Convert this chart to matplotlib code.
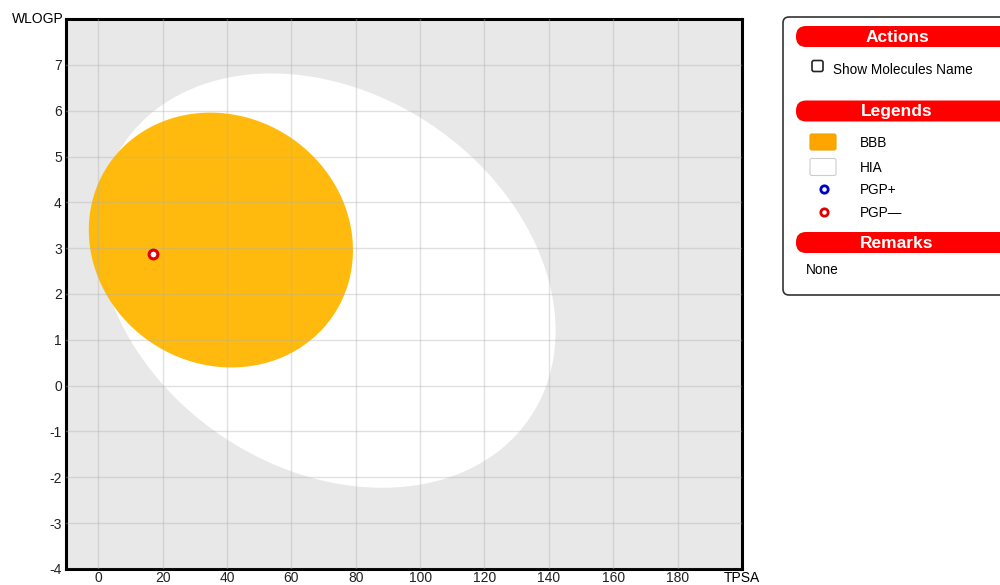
import numpy as np
import matplotlib.pyplot as plt
from matplotlib.patches import FancyBboxPatch, Polygon

plt.rcParams["font.family"] = ["Liberation Sans", "DejaVu Sans"]

# ── Data ─────────────────────────────────────────────────────────────────────
# Molecule position (TPSA, WLOGP)
mol_tpsa = [17.1]
mol_wlogp = [2.88]

# Egg regions: centre, half-width in TPSA, half-height in WLOGP, tilt phase
hia_center = (71.051, 2.292)
hia_half = (71.04, 4.52)
hia_phase = -0.245

bbb_center = (38.117, 3.177)
bbb_half = (41.03, 2.78)
bbb_phase = -0.08

x_ticks = list(range(0, 181, 20))
y_ticks = list(range(-4, 8))

panel_headers = ["Actions", "Legends", "Remarks"]
legend_labels = ["BBB", "HIA", "PGP+", "PGP\u2014"]
remarks_text = "None"


def egg_outline(center, half, phase, n=400):
    t = np.linspace(0, 2 * np.pi, n)
    xs = center[0] + half[0] * np.cos(t)
    ys = center[1] + half[1] * np.sin(t + phase)
    return np.column_stack([xs, ys])


fig = plt.figure(figsize=(10, 5.85), dpi=100)

# ── Main plot ────────────────────────────────────────────────────────────────
ax = fig.add_axes([0.066, 0.0274, 0.676, 0.9401])
ax.set_facecolor("#e8e8e8")
ax.set_xlim(-10, 200)
ax.set_ylim(-4, 8)

ax.add_patch(Polygon(egg_outline(hia_center, hia_half, hia_phase),
                     closed=True, facecolor="white", edgecolor="none", zorder=1))
ax.add_patch(Polygon(egg_outline(bbb_center, bbb_half, bbb_phase),
                     closed=True, facecolor="#ffb700", edgecolor="none",
                     alpha=0.95, zorder=2))

for xv in x_ticks:
    ax.axvline(xv, color="#b0b0b0", lw=1, alpha=0.38, zorder=3)
for yv in y_ticks:
    ax.axhline(yv, color="#b0b0b0", lw=1, alpha=0.38, zorder=3)

ax.scatter(mol_tpsa, mol_wlogp, s=40, facecolor="white", edgecolor="#e00000",
           linewidths=2.2, zorder=5)

ax.set_xticks(x_ticks)
ax.set_yticks(y_ticks)
ax.set_xticklabels([str(v) for v in x_ticks], fontsize=10)
ax.set_yticklabels([str(v) for v in y_ticks], fontsize=10)
ax.tick_params(axis="x", length=0, pad=1.5, colors="#222222")
ax.tick_params(axis="y", length=0, pad=3, colors="#222222")
for sp in ax.spines.values():
    sp.set_linewidth(2.2)
    sp.set_color("black")

ax.text(-10.8, 8, "WLOGP", ha="right", va="center", fontsize=10)
ax.annotate("TPSA", xy=(200, -4), xytext=(0, -1.5), textcoords="offset points",
            ha="center", va="top", fontsize=10)

# ── Side panel (pixel coordinates) ───────────────────────────────────────────
pn = fig.add_axes([0.78, 0, 0.22, 1])
pn.set_xlim(780, 1000)
pn.set_ylim(585, 0)
pn.axis("off")

pn.add_patch(FancyBboxPatch((783, 17), 240, 278,
                            boxstyle="round,pad=0,rounding_size=6",
                            facecolor="white", edgecolor="#333333", lw=1.2))

header_rows = [36.5, 111, 242.5]
for label, yc in zip(panel_headers, header_rows):
    pn.add_patch(FancyBboxPatch((796, yc - 10.5), 230, 21,
                                boxstyle="round,pad=0,rounding_size=10",
                                facecolor="#ff0000", edgecolor="none"))
    pn.text(897, yc + 0.5, label, ha="center", va="center", color="white",
            fontsize=12.5, fontweight="bold")

# checkbox
pn.add_patch(FancyBboxPatch((812, 60.5), 11, 11,
                            boxstyle="round,pad=0,rounding_size=2",
                            facecolor="white", edgecolor="#222222", lw=1.2))
pn.text(833, 69.5, "Show Molecules Name", ha="left", va="center", fontsize=9.8)

legend_rows = [142, 167, 189, 212]
pn.add_patch(FancyBboxPatch((810, 134), 26, 16,
                            boxstyle="round,pad=0,rounding_size=2",
                            facecolor="#ffa500", edgecolor="#f0a000", lw=0.8))
pn.add_patch(FancyBboxPatch((810, 158.5), 26, 17,
                            boxstyle="round,pad=0,rounding_size=2",
                            facecolor="white", edgecolor="#cccccc", lw=0.8))
pn.scatter([824], [legend_rows[2]], s=28, facecolor="white",
           edgecolor="#0000cc", linewidths=2)
pn.scatter([824], [legend_rows[3]], s=28, facecolor="white",
           edgecolor="#dd0000", linewidths=2)
for label, yc in zip(legend_labels, legend_rows):
    pn.text(860, yc + 1, label, ha="left", va="center", fontsize=9.8)

pn.text(806, 270.5, remarks_text, ha="left", va="center", fontsize=9.8)

fig.savefig("out.png", dpi=100)
